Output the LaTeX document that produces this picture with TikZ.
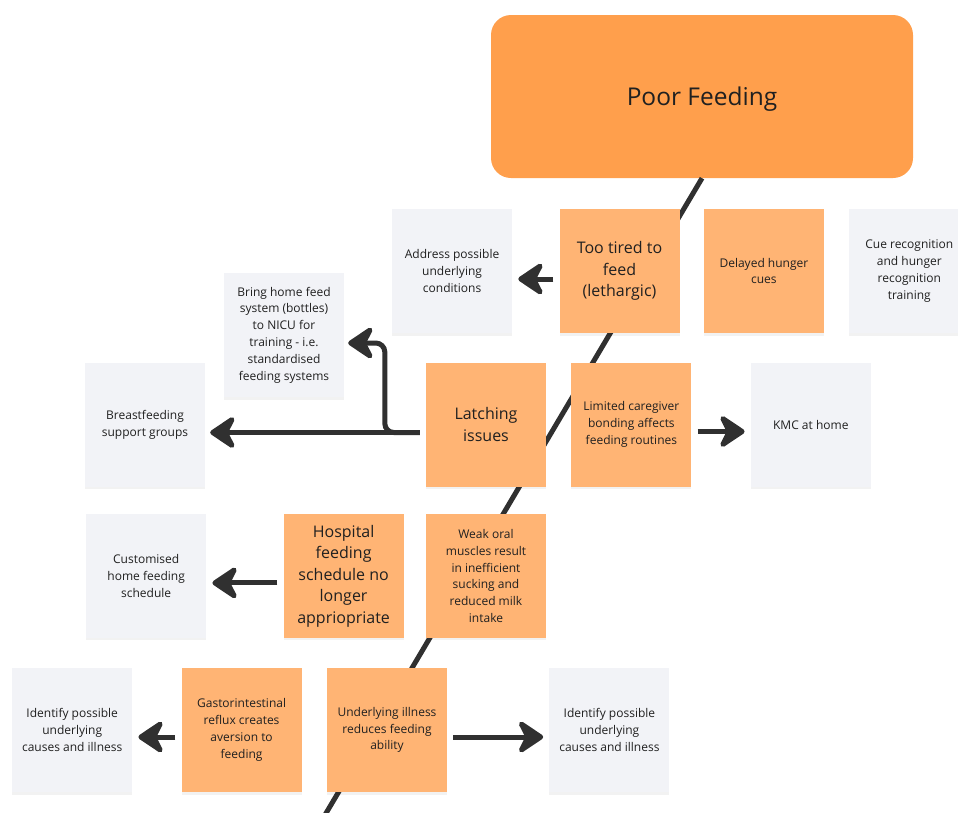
\documentclass[tikz,border=0pt]{standalone}
\usepackage{fontspec}
\setmainfont{Open Sans}
\usetikzlibrary{positioning, arrows.meta, shadows}
\definecolor{headcol}{RGB}{255,159,76}
\definecolor{causecol}{RGB}{255,180,116}
\definecolor{ideacol}{RGB}{242,243,247}
\definecolor{inkcol}{RGB}{48,48,48}
\definecolor{txtcol}{RGB}{32,32,32}
\tikzset{
  note/.style={minimum width=120pt, minimum height=124pt, inner sep=0pt,
               align=center, text=txtcol, font=\fontsize{12}{16.8}\selectfont,
               drop shadow={shadow xshift=0pt, shadow yshift=-2.5pt, opacity=0.05, fill=black}},
  cause/.style={note, fill=causecol},
  bigcause/.style={cause, font=\fontsize{16}{21.5}\selectfont},
  idea/.style={note, fill=ideacol},
  head/.style={minimum width=422pt, minimum height=163pt, rounded corners=20pt,
               fill=headcol, text=txtcol, font=\fontsize{24.5}{30}\selectfont},
  spine/.style={line width=5pt, draw=inkcol},
  flow/.style={-{Stealth[length=30pt, width=40pt, inset=10pt, round]}, line width=5pt, draw=inkcol},
}

\begin{document}
\begin{tikzpicture}[x=1pt, y=-1pt]
  \useasboundingbox (0,0) rectangle (958,812);
  \clip (0,0) rectangle (958,812);
  % --- problem and spine ---
  \node[head] (feed) at (702,96.5) {\raisebox{-9pt}[0pt][0pt]{Poor Feeding}};
  \coordinate (tail) at (322,820);
  \draw[spine] (feed.south) -- (tail);

  % --- top row ---
  \node[bigcause] (tired) at (619.5,271) {Too tired to\\feed\\(lethargic)};
  \node[idea, left=47pt of tired] (address) {Address possible\\underlying\\conditions};
  \node[cause, right=24pt of tired] (delayed) {Delayed hunger\\cues};
  \node[idea, right=25pt of delayed] (cue) {Cue recognition\\and hunger\\recognition\\training};
  \node[idea] (bring) at (284,335) {Bring home feed\\system (bottles)\\to NICU for\\training - i.e.\\standardised\\feeding systems};

  % --- middle row ---
  \node[bigcause] (latch) at (486,424.5) {Latching\\issues};
  \node[idea] (breast) at (145,424.5) {Breastfeeding\\support groups};
  \node[cause, right=25pt of latch] (bonding) {Limited caregiver\\bonding affects\\feeding routines};
  \node[idea, right=59pt of bonding] (kmc) {KMC at home};

  % --- lower row ---
  \node[cause, below=27pt of latch] (weak) {Weak oral\\muscles result\\in inefficient\\sucking and\\reduced milk\\intake};
  \node[bigcause, left=22pt of weak] (hospital) {Hospital\\feeding\\schedule no\\longer\\appriopriate};
  \node[idea, left=77pt of hospital] (schedule) {Customised\\home feeding\\schedule};

  % --- bottom row ---
  \node[cause] (illness) at (387,730) {Underlying illness\\reduces feeding\\ability};
  \node[cause, left=25pt of illness] (reflux) {Gastorintestinal\\reflux creates\\aversion to\\feeding};
  \node[idea, left=49pt of reflux] (identl) {Identify possible\\underlying\\causes and illness};
  \node[idea, right=102pt of illness] (identr) {Identify possible\\underlying\\causes and illness};

  % --- arrows ---
  \draw[flow] ([xshift=-6pt, yshift=-8pt]tired.west) -- ([xshift=6pt, yshift=-8pt]address.east);
  \draw[flow] ([xshift=-6pt, yshift=-8pt]latch.west) -- ([xshift=5pt, yshift=-8pt]breast.east);
  \draw[flow, rounded corners=9pt] ([xshift=-6pt, yshift=-8pt]latch.west) -- ++(-35,0)
        |- ([xshift=4pt, yshift=-8pt]bring.east);
  \draw[flow] ([xshift=6pt, yshift=-7pt]bonding.east) -- ([xshift=-6pt, yshift=-7pt]kmc.west);
  \draw[flow] ([xshift=-6pt, yshift=-7pt]hospital.west) -- ([xshift=6pt, yshift=-7pt]schedule.east);
  \draw[flow] ([xshift=-6pt, yshift=-7pt]reflux.west) -- ([xshift=6pt, yshift=-7pt]identl.east);
  \draw[flow] ([xshift=6pt, yshift=-7pt]illness.east) -- ([xshift=-6pt, yshift=-7pt]identr.west);
\end{tikzpicture}
\end{document}
